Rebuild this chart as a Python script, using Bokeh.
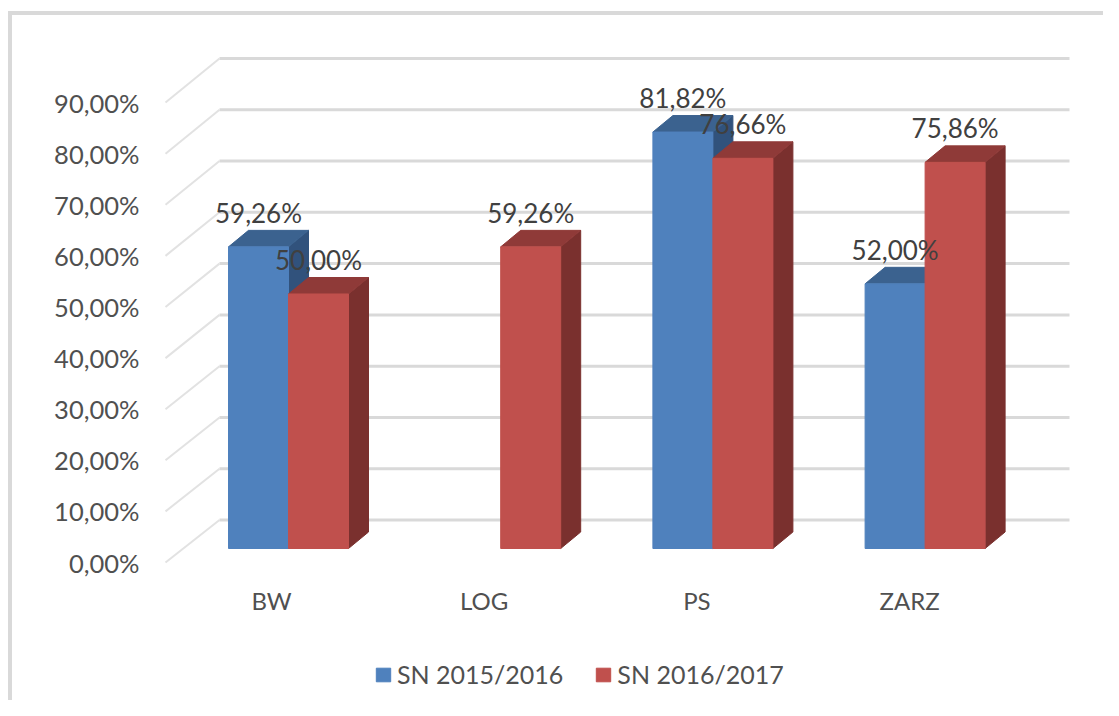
from bokeh.plotting import figure
from bokeh.embed import file_html
from bokeh.resources import INLINE
from bokeh.models import Range1d, LinearAxis, FixedTicker, Legend, LegendItem
from bokeh.core.properties import value

categories = ["BW", "LOG", "PS", "ZARZ"]
series_names = ["SN 2015/2016", "SN 2016/2017"]
s2015 = [59.26, None, 81.82, 52.00]
s2016 = [50.00, 59.26, 76.66, 75.86]
y_ticks = [0, 10, 20, 30, 40, 50, 60, 70, 80, 90]

FONT = "Lato"
TXT = "#505050"
GRID = "#d9d9d9"

W, H = 1103, 700
# pixel geometry -> data scales
XP, XS = 288.0, 212.2      # x of category 0, px per category
YP, YS = 548.0, 5.09       # y of value 0, px per unit
FL, FR, FT, FB = 150, 1100, 30, H  # frame edges
BW = 60.0 / XS
DX, DY = 20.0 / XS, 16.5 / YS

p = figure(width=W, height=H, output_backend="svg", toolbar_location=None,
           x_range=Range1d((FL - XP) / XS, (FR - XP) / XS),
           y_range=Range1d((YP - FB) / YS, (YP - FT) / YS),
           min_border_left=FL, min_border_right=W - FR,
           min_border_top=FT, min_border_bottom=0)
p.outline_line_color = None
p.xgrid.visible = False
p.ygrid.visible = False
p.xaxis.visible = False
p.yaxis.visible = False

# chart-area border drawn behind a transparent canvas
p.border_fill_alpha = 0
p.background_fill_alpha = 0
p.styles = {
    "background-color": "white",
    "background-image": "linear-gradient(#d9d9d9,#d9d9d9),linear-gradient(#d9d9d9,#d9d9d9)",
    "background-size": "4px 100%,100% 4px",
    "background-position": "8px 11px,8px 11px",
    "background-repeat": "no-repeat",
}

# shifted ranges for the axes (3-D chart: labels sit on the front edge of the wall)
p.extra_y_ranges = {"ax": Range1d((562 - FB) / 5.11, (562 - FT) / 5.11)}
p.extra_x_ranges = {"ax": Range1d((FL - 271) / 212.7, (FR - 271) / 212.7)}

yax = LinearAxis(y_range_name="ax", ticker=FixedTicker(ticks=y_ticks),
                 major_label_overrides={t: f"{t},00%" for t in y_ticks},
                 axis_line_color=None, major_tick_line_color=None, minor_tick_line_color=None,
                 major_label_text_font=FONT, major_label_text_font_size="25.5px",
                 major_label_text_color=TXT, major_label_standoff=5)
p.add_layout(yax, "left")
xax = LinearAxis(x_range_name="ax", ticker=FixedTicker(ticks=list(range(len(categories)))),
                 major_label_overrides={i: c for i, c in enumerate(categories)},
                 axis_line_color=None, major_tick_line_color=None, minor_tick_line_color=None,
                 major_label_text_font=FONT, major_label_text_font_size="24px",
                 major_label_text_color=TXT, major_label_standoff=4,
                 fixed_location=(548 - 624) / YS)
p.add_layout(xax, "above")

# walls: back-plane grid lines and diagonals on the left wall
def to_v(y):
    return (YP - y) / YS
def back(v):
    return to_v(519.5 - 5.128 * v)
def front(v):
    return to_v(562 - 5.11 * v)
wall_front_x = (165 - XP) / XS
wall_back_x = (219 - XP) / XS
wall_right_x = (1069 - XP) / XS
p.segment(x0=[wall_back_x] * len(y_ticks), x1=[wall_right_x] * len(y_ticks),
          y0=[back(t) for t in y_ticks], y1=[back(t) for t in y_ticks],
          line_color=GRID, line_width=3)
p.segment(x0=[wall_front_x] * len(y_ticks), x1=[wall_back_x] * len(y_ticks),
          y0=[front(t) for t in y_ticks], y1=[back(t) for t in y_ticks],
          line_color="#e2e2e2", line_width=2)

def draw_series(vals, side, front_c, top_c, dark_c):
    xc = [i + side * BW / 2 for i in range(len(vals)) if vals[i] is not None]
    v = [x for x in vals if x is not None]
    p.patches(xs=[[x + BW / 2, x + BW / 2 + DX, x + BW / 2 + DX, x + BW / 2] for x in xc],
              ys=[[0, DY, h + DY, h] for h in v], fill_color=dark_c, line_color=dark_c)
    p.patches(xs=[[x - BW / 2, x - BW / 2 + DX, x + BW / 2 + DX, x + BW / 2] for x in xc],
              ys=[[h, h + DY, h + DY, h] for h in v], fill_color=top_c, line_color=top_c)
    return p.vbar(x=xc, width=BW, bottom=0, top=v, fill_color=front_c, line_color=front_c)

r1 = draw_series(s2015, -1, "#4F81BD", "#3B628F", "#31527C")
r2 = draw_series(s2016, 1, "#C0504D", "#8F3A38", "#7A302E")

for vals, side in ((s2015, -1), (s2016, 1)):
    xc = [i + side * BW / 2 for i in range(len(vals)) if vals[i] is not None]
    v = [x for x in vals if x is not None]
    p.text(x=xc, y=v, text=[f"{x:.2f}%".replace(".", ",") for x in v],
           y_offset=-34, text_align="center", text_baseline="middle",
           text_font=value(FONT), text_font_size="26px", text_color="#404040")

legend = Legend(items=[LegendItem(label=series_names[0], renderers=[r1]),
                       LegendItem(label=series_names[1], renderers=[r2])],
                orientation="horizontal", location=(224, 11),
                glyph_width=18, glyph_height=17, label_standoff=5, spacing=31,
                label_text_font=FONT, label_text_font_size="25px", label_text_color=TXT,
                border_line_color=None, background_fill_alpha=0,
                margin=0, padding=0)
p.add_layout(legend, "center")

open("out.html", "w").write(file_html(p, INLINE))
